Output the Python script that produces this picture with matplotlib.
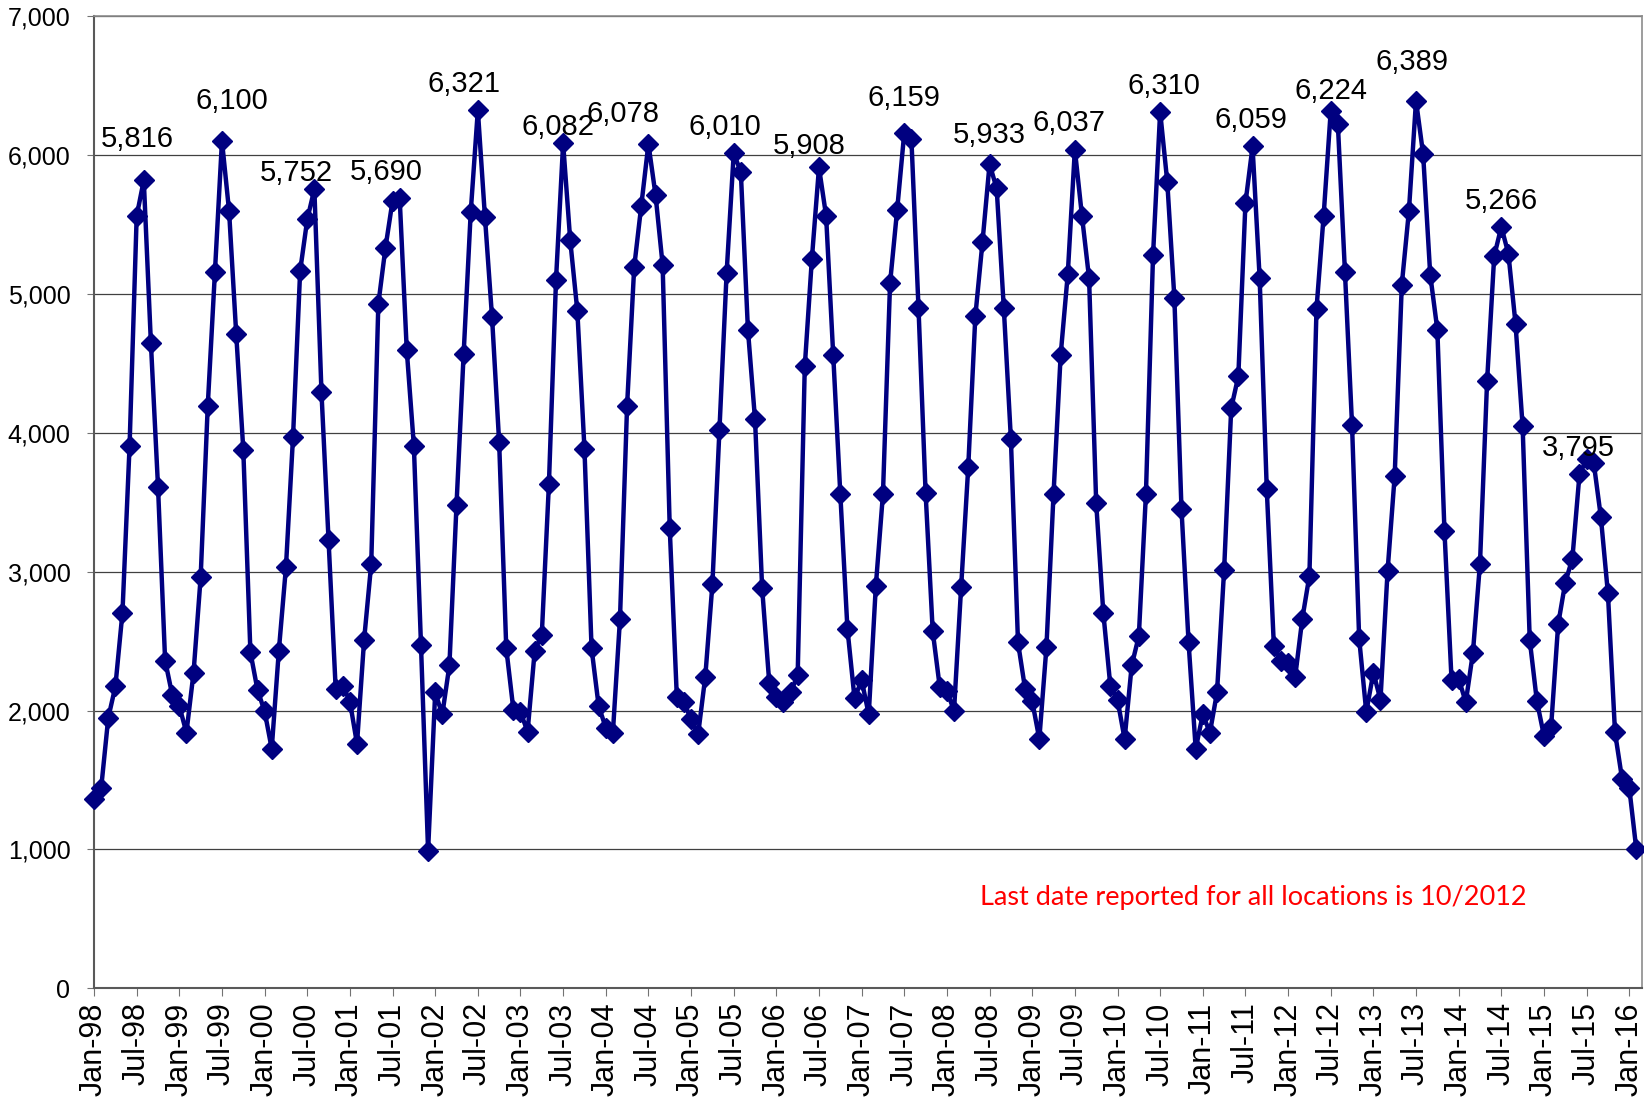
import numpy as np
import matplotlib.pyplot as plt
from matplotlib.ticker import FuncFormatter

# monthly counts, Jan-98 .. Feb-16
counts = [
    1365, 1440, 1947, 2173, 2705, 3905, 5559, 5816, 4645, 3612, 2360, 2113,   # 1998
    2032, 1841, 2272, 2959, 4194, 5153, 6100, 5594, 4713, 3877, 2420, 2148,   # 1999
    1995, 1725, 2430, 3030, 3972, 5164, 5534, 5752, 4289, 3224, 2155, 2180,   # 2000
    2065, 1760, 2510, 3055, 4925, 5330, 5668, 5690, 4593, 3905, 2473, 990,    # 2001
    2130, 1972, 2325, 3481, 4564, 5587, 6321, 5552, 4829, 3929, 2448, 2007,   # 2002
    1989, 1848, 2430, 2547, 3630, 5100, 6082, 5383, 4875, 3884, 2448, 2032,   # 2003
    1877, 1841, 2660, 4194, 5192, 5633, 6078, 5711, 5206, 3312, 2095, 2060,   # 2004
    1937, 1831, 2243, 2907, 4018, 5146, 6010, 5877, 4741, 4095, 2882, 2201,   # 2005
    2095, 2060, 2130, 2254, 4476, 5252, 5908, 5560, 4560, 3559, 2589, 2088,   # 2006
    2219, 1972, 2899, 3559, 5076, 5605, 6159, 6116, 4899, 3566, 2571, 2166,   # 2007
    2138, 2000, 2889, 3753, 4840, 5369, 5933, 5757, 4899, 3954, 2490, 2155,   # 2008
    2067, 1795, 2455, 3559, 4557, 5139, 6037, 5559, 5111, 3496, 2705, 2173,   # 2009
    2078, 1795, 2325, 2536, 3559, 5277, 6310, 5806, 4970, 3453, 2490, 1725,   # 2010
    1972, 1841, 2130, 3012, 4176, 4406, 5651, 6059, 5111, 3594, 2466, 2360,   # 2011
    2342, 2243, 2660, 2970, 4892, 5559, 6315, 6224, 5157, 4053, 2519, 1989,   # 2012
    2272, 2078, 3005, 3690, 5065, 5594, 6389, 6004, 5136, 4741, 3295, 2219,   # 2013
    2229, 2060, 2413, 3058, 4370, 5270, 5481, 5287, 4783, 4045, 2508, 2070,   # 2014
    1818, 1878, 2621, 2921, 3094, 3700, 3808, 3784, 3396, 2844, 1842, 1506,   # 2015
    1446, 1000,                                                               # 2016
]

tick_labels = [
    "Jan-98", "Jul-98", "Jan-99", "Jul-99", "Jan-00", "Jul-00", "Jan-01", "Jul-01",
    "Jan-02", "Jul-02", "Jan-03", "Jul-03", "Jan-04", "Jul-04", "Jan-05", "Jul-05",
    "Jan-06", "Jul-06", "Jan-07", "Jul-07", "Jan-08", "Jul-08", "Jan-09", "Jul-09",
    "Jan-10", "Jul-10", "Jan-11", "Jul-11", "Jan-12", "Jul-12", "Jan-13", "Jul-13",
    "Jan-14", "Jul-14", "Jan-15", "Jul-15", "Jan-16",
]

# peak labels: month index of the point and the text shown over it
label_months = [7, 18, 31, 43, 54, 66, 78, 90, 102, 114, 126, 138, 150, 163, 175, 186, 198, 209]
label_texts = ["5,816", "6,100", "5,752", "5,690", "6,321", "6,082", "6,078", "6,010", "5,908",
               "6,159", "5,933", "6,037", "6,310", "6,059", "6,224", "6,389", "5,266", "3,795"]

note = "Last date reported for all locations is 10/2012"

# label nudges in points (dx, dy), hand placed like in the original
nudges = [(-5, 24), (7, 23), (-13, 6), (-10, 13), (-10, 13), (-4, 6), (-18, 16), (-6, 13),
          (-7, 10), (0, 19), (0, 15), (-4, 13), (3, 13), (-1, 13), (-5, 18), (-3, 22),
          (0, 13), (-1, 13)]

plt.rcParams['font.family'] = ['Liberation Sans', 'DejaVu Sans']

fig = plt.figure(figsize=(16.44, 11), dpi=100)
ax = fig.add_axes([0.0572, 0.1014, 0.9416, 0.8843])

x = np.arange(len(counts))
ax.plot(x, counts, color='#000080', lw=3.2, marker='D', ms=10, mew=1,
        clip_on=False, zorder=3)

for m, txt, (dx, dy) in zip(label_months, label_texts, nudges):
    ax.annotate(txt, (m, counts[m]), xytext=(dx, dy), textcoords='offset points',
                ha='center', va='baseline', fontsize=21, zorder=4)

ax.text(0.749, 0.093, note, transform=ax.transAxes, color='red', fontsize=19.5,
        family=['Lato', 'DejaVu Sans'], ha='center', va='center')

ax.set_xlim(0, 217.8)
ax.set_ylim(0, 7000)
ax.set_yticks(range(0, 7001, 1000))
ax.yaxis.set_major_formatter(FuncFormatter(lambda v, p: f"{int(v):,}"))
ax.set_xticks(range(0, 217, 6))
ax.set_xticklabels(tick_labels, rotation=90)
ax.tick_params(axis='y', labelsize=18, length=5, color='0.45', pad=12)
ax.tick_params(axis='x', labelsize=22, length=6, color='0.45', pad=4)

ax.grid(axis='y', color='0.25', lw=0.9)
ax.set_axisbelow(True)
for side in ['left', 'bottom']:
    ax.spines[side].set_color('0.35')
    ax.spines[side].set_linewidth(1.5)
for side in ['top', 'right']:
    ax.spines[side].set_color('0.55')
    ax.spines[side].set_linewidth(1.2)

fig.savefig("out.png", dpi=100)
